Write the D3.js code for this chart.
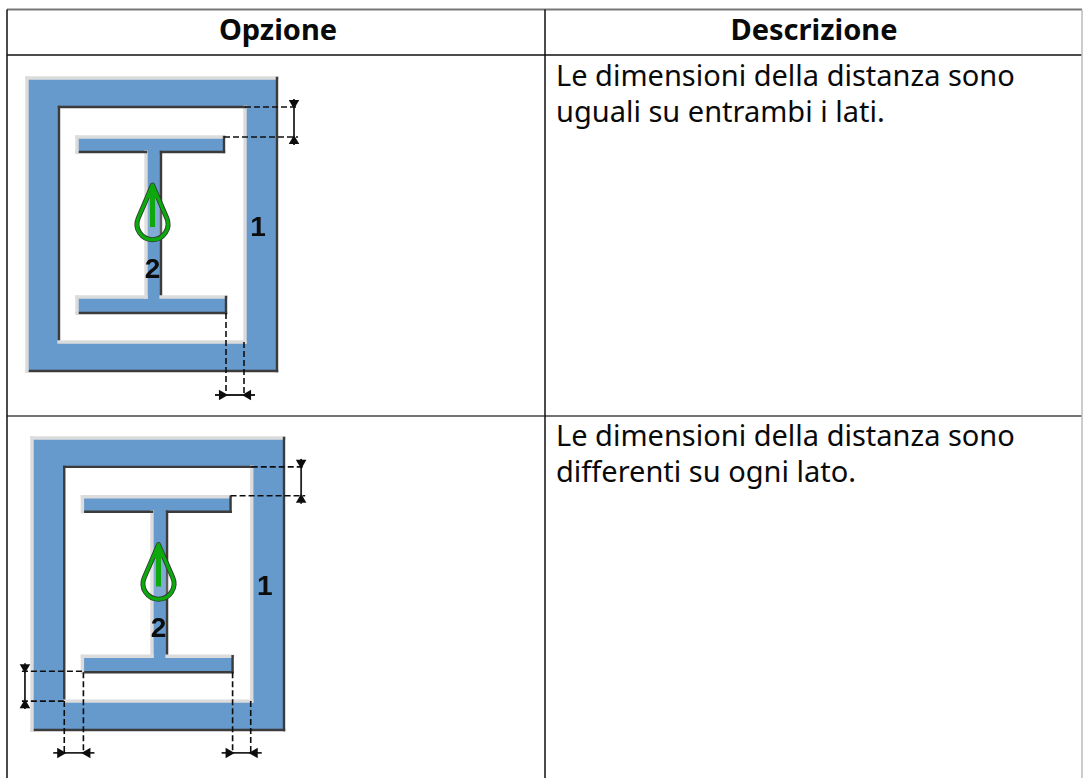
<!DOCTYPE html>
<html>
<head>
<meta charset="utf-8">
<script src="https://cdn.jsdelivr.net/npm/d3@7"></script>
<style>
  html, body { margin: 0; padding: 0; background: #fff; }
  svg { display: block; }
  text { font-family: "Noto Sans", sans-serif; fill: #0a0a0a; }
</style>
</head>
<body>
<script>
// table content
var headers = ["Opzione", "Descrizione"];
var descriptions = [
  ["Le dimensioni della distanza sono", "uguali su entrambi i lati."],
  ["Le dimensioni della distanza sono", "differenti su ogni lato."]
];

// profile geometry in drawing units, rings run so fill is on the right hand side
var frameOuter = [[0, 0], [250, 0], [250, 293], [0, 293]];
var frameInner = [[32, 29], [32, 264], [218, 264], [218, 29]];
var beam = [[50, 59], [197, 59], [197, 74], [134, 74], [134, 219], [199, 219],
            [199, 235], [50, 235], [50, 219], [119, 219], [119, 74], [50, 74]];
var labels = [["1", 231, 158], ["2", 125.5, 200]];
var dropTip = [125.5, 107];
var dropCentre = [125.5, 146];
var dropRadius = 15.5;
var arrowTail = [125.5, 149];

// dashed witness lines and solid dimension lines for each picture
var witness = [
  [[218, 29, 271, 29], [197, 59, 271, 59], [199, 235, 199, 317], [217, 264, 217, 317]],
  [[218, 29, 271, 29], [197, 58, 271, 58], [199, 235, 199, 316], [217, 264, 217, 316],
   [-10, 234, 50, 234], [-10, 264, 32, 264], [32, 264, 32, 316], [51, 235, 51, 316]]
];
var dims = [
  [[267, 29, 267, 59], [199, 317, 217, 317]],
  [[267, 29, 267, 58], [199, 316, 217, 316], [-7, 234, -7, 264], [32, 316, 51, 316]]
];

// pixel box of each picture
var boxes = [[27, 78, 277, 371], [32, 438, 284, 730]];

var width = 1083, height = 778;
var tableLeft = 7, tableRight = 1082, tableTop = 9.5, headBottom = 55, colLine = 545, rowLine = 416;

var svg = d3.select("body").append("svg")
  .attr("width", width)
  .attr("height", height);

var defs = svg.append("defs");
defs.append("filter").attr("id", "soft")
  .attr("x", "-5%").attr("y", "-5%").attr("width", "110%").attr("height", "110%")
  .append("feGaussianBlur").attr("stdDeviation", 0.75);

// table rules
var rules = [
  [tableLeft, tableTop, tableRight, tableTop, "#777", 2],
  [tableLeft, headBottom, tableRight, headBottom, "#111", 1.5],
  [tableLeft, rowLine, tableRight, rowLine, "#444", 1.5],
  [tableLeft, tableTop, tableLeft, height, "#111", 1.5],
  [colLine, tableTop, colLine, height, "#111", 1.5],
  [tableRight, tableTop, tableRight, height, "#bbb", 1.5]
];
svg.selectAll(".rule").data(rules).enter().append("line")
  .attr("class", "rule")
  .attr("x1", function(d) { return d[0]; })
  .attr("y1", function(d) { return d[1]; })
  .attr("x2", function(d) { return d[2]; })
  .attr("y2", function(d) { return d[3]; })
  .attr("stroke", function(d) { return d[4]; })
  .attr("stroke-width", function(d) { return d[5]; });

svg.selectAll(".head").data(headers).enter().append("text")
  .attr("class", "head")
  .attr("x", function(d, i) { return i == 0 ? 278 : 814; })
  .attr("y", 40)
  .attr("text-anchor", "middle")
  .attr("font-size", 29)
  .attr("font-weight", 700)
  .text(function(d) { return d; });

var rowBase = [86, 446];
descriptions.forEach(function(lines, r) {
  svg.selectAll(".desc" + r).data(lines).enter().append("text")
    .attr("class", "desc" + r)
    .attr("x", 556)
    .attr("y", function(d, i) { return rowBase[r] + i * 36; })
    .attr("font-size", 29)
    .text(function(d) { return d; });
});

// one picture per row
boxes.forEach(function(box, n) {
  var x = d3.scaleLinear().domain([0, 250]).range([box[0], box[2]]);
  var y = d3.scaleLinear().domain([0, 293]).range([box[1], box[3]]);
  var line = d3.line().x(function(d) { return x(d[0]); }).y(function(d) { return y(d[1]); });
  var g = svg.append("g").attr("filter", "url(#soft)");

  g.append("path")
    .attr("d", line(frameOuter) + "Z" + line(frameInner) + "Z" + line(beam) + "Z")
    .attr("fill", "#6699cc")
    .attr("fill-rule", "evenodd");

  // bevel, edges heading right or up are lit, the others are in shadow
  [frameOuter, frameInner, beam].forEach(function(ring) {
    var edges = ring.map(function(p, i) { return [p, ring[(i + 1) % ring.length]]; });
    g.selectAll(null).data(edges).enter().append("path")
      .attr("d", function(d) { return line(d); })
      .attr("fill", "none")
      .attr("stroke-linecap", "square")
      .attr("stroke", function(d) { return (d[1][0] > d[0][0] || d[1][1] < d[0][1]) ? "#dcdcdc" : "#3a3a3a"; })
      .attr("stroke-width", function(d) { return (d[1][0] > d[0][0] || d[1][1] < d[0][1]) ? 3.4 : 2.4; });
  });

  g.selectAll(".witness").data(witness[n]).enter().append("line")
    .attr("class", "witness")
    .attr("x1", function(d) { return x(d[0]); })
    .attr("y1", function(d) { return y(d[1]); })
    .attr("x2", function(d) { return x(d[2]); })
    .attr("y2", function(d) { return y(d[3]); })
    .attr("stroke", "#111")
    .attr("stroke-width", 1.6)
    .attr("stroke-dasharray", "6,3");

  // solid dimension lines run past the witness lines, arrows point back at them
  dims[n].forEach(function(d) {
    var x1 = x(d[0]), y1 = y(d[1]), x2 = x(d[2]), y2 = y(d[3]);
    var ux = x2 > x1 ? 1 : 0, uy = y2 > y1 ? 1 : 0;
    var over = 11;
    g.append("line")
      .attr("x1", x1 - ux * over).attr("y1", y1 - uy * (over - 3))
      .attr("x2", x2 + ux * over).attr("y2", y2 + uy * (over - 3))
      .attr("stroke", "#222").attr("stroke-width", 1.8);
    [[x1, y1, ux ? 90 : 180], [x2, y2, ux ? -90 : 0]].forEach(function(a) {
      g.append("path")
        .attr("d", d3.symbol(d3.symbolTriangle, 48)())
        .attr("transform", "translate(" + (a[0] + (a[2] == 90 ? -4 : a[2] == -90 ? 4 : 0)) + "," +
          (a[1] + (a[2] == 180 ? -4 : a[2] == 0 ? 4 : 0)) + ") rotate(" + a[2] + ")")
        .attr("fill", "#111");
    });
  });

  // green drop with the arrow inside
  var cx = x(dropCentre[0]), cy = y(dropCentre[1]), r = dropRadius, tx = x(dropTip[0]), ty = y(dropTip[1]);
  var bx = r * 0.92, by = r * 0.38;
  var drop = "M" + tx + "," + ty +
    "L" + (cx + bx) + "," + (cy - by) +
    "A" + r + "," + r + " 0 1 1 " + (cx - bx) + "," + (cy - by) + "Z";
  g.append("path").attr("d", drop).attr("fill", "#fff").attr("fill-opacity", 0.18).attr("stroke", "#333").attr("stroke-width", 5).attr("stroke-linejoin", "round");
  g.append("path").attr("d", drop).attr("fill", "none").attr("stroke", "#08a808").attr("stroke-width", 3.4).attr("stroke-linejoin", "round");
  g.append("line")
    .attr("x1", x(arrowTail[0])).attr("y1", y(arrowTail[1]))
    .attr("x2", tx).attr("y2", ty + 8)
    .attr("stroke", "#08a808").attr("stroke-width", 5);
  g.append("path")
    .attr("d", "M" + tx + "," + (ty + 2) + "L" + (tx + 6) + "," + (ty + 13) + "L" + (tx - 6) + "," + (ty + 13) + "Z")
    .attr("fill", "#08a808");

  g.selectAll(".num").data(labels).enter().append("text")
    .attr("class", "num")
    .attr("x", function(d) { return x(d[1]); })
    .attr("y", function(d) { return y(d[2]); })
    .attr("text-anchor", "middle")
    .attr("font-size", 28)
    .attr("font-weight", 700)
    .style("font-family", "'Liberation Sans', sans-serif")
    .text(function(d) { return d[0]; });
});
</script>
</body>
</html>
